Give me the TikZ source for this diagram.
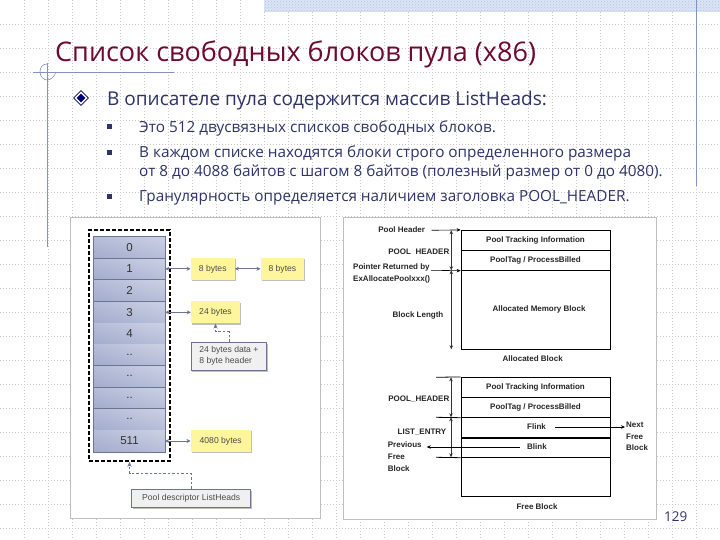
\documentclass[tikz,border=0pt]{standalone}
\usepackage{fontspec}
\setmainfont{Liberation Sans}
\newfontfamily\slidefont{Open Sans}
\usetikzlibrary{arrows.meta,shadows,shapes.geometric,patterns,shadings}
\definecolor{titlec}{HTML}{6E0A30}
\definecolor{bodyc}{HTML}{2E3468}
\definecolor{guide}{HTML}{8492C2}
\definecolor{yel}{HTML}{FFF59C}
\definecolor{rowa}{HTML}{A4ACCE}
\definecolor{rowm}{HTML}{B6BDD8}
\definecolor{rowb}{HTML}{CBD1E4}
\definecolor{conn}{HTML}{6C7590}
\definecolor{band}{HTML}{AFC3E6}
\tikzset{
 rowcell/.style={minimum width=71pt,inner sep=0,lower left=rowa,upper right=rowb,upper left=rowm,lower right=rowm,font=\fontsize{11.5}{12}\selectfont,text=black!80},
 ybox/.style={fill=yel,inner sep=0,font=\fontsize{8.6}{10}\selectfont,text=black!70,drop shadow={shadow xshift=1pt,shadow yshift=-1.2pt,fill=gray,opacity=.5}},
 gbox/.style={fill=black!6,draw=conn,line width=.6pt,inner sep=0,font=\fontsize{8.6}{10.5}\selectfont,text=black!70,drop shadow={shadow xshift=1pt,shadow yshift=-1.5pt,fill=gray,opacity=.5}},
 darr/.style={{Stealth[length=4pt,width=4pt]}-{Stealth[length=4pt,width=4pt]},conn,line width=.8pt},
 dasharr/.style={-{Stealth[length=5pt,width=4pt]},conn,line width=.8pt,dash pattern=on 2.5pt off 2pt},
 blk/.style={draw=black,line width=.8pt,inner sep=0,minimum width=149pt,font=\fontsize{8}{9}\selectfont\bfseries,text=black!85},
 lbl/.style={inner sep=0,font=\fontsize{8}{11.8}\selectfont\bfseries,text=black!85,align=left},
 farr/.style={-{Stealth[length=4pt,width=3.5pt]},line width=.6pt},
 vdbl/.style={{Stealth[length=4pt,width=3.5pt]}-{Stealth[length=4pt,width=3.5pt]},line width=.6pt,black!80},
 sub/.style={inner sep=0,anchor=base west,font=\slidefont\fontsize{15.3}{20}\selectfont,text=bodyc},
 subm/.style={fill=bodyc,minimum size=5pt,inner sep=0},
 gridl/.style={black!22,line width=.7pt,dash pattern=on .8pt off 2.2pt},
}
\begin{document}
\begin{tikzpicture}[x=1pt,y=-1pt]
\useasboundingbox (0,0) rectangle (720,540);
\fill[white] (0,0) rectangle (720,540);
\foreach \k in {1,...,22} \draw[gridl] (0,24*\k) -- (720,24*\k);
\foreach \k in {1,...,29} \draw[gridl] (24*\k,0) -- (24*\k,540);
\fill[band!45!white] (264,0) rectangle (720,12);
\fill[pattern=crosshatch dots,pattern color=band] (264,0) rectangle (720,12);
\draw[guide,line width=.9pt] (696.5,0) -- (696.5,186);
\draw[guide,line width=.9pt] (47,63) -- (47,247);
\draw[guide,line width=.9pt] (33,72) -- (174,72);
\draw[guide,line width=.6pt] (47,64) .. controls (42,64) and (40,68) .. (40,72) .. controls (40,77) and (44,80) .. (47,80) .. controls (51,80) and (54,77) .. (56,72);
% texts
\node[inner sep=0,anchor=base west,font=\slidefont\fontsize{27}{30}\selectfont,text=titlec] (title) at (55,62) {Список свободных блоков пула (x86)};
\node[diamond,fill=white,draw=black!80!blue,line width=.7pt,minimum size=15pt,inner sep=0] (bul) at (81,98) {};
\node[diamond,fill=blue!50!black,minimum size=9pt,inner sep=0] (bulc) at (81,98) {};
\node[sub,font=\slidefont\fontsize{19}{22}\selectfont] (head) at (107,106) {В описателе пула содержится массив ListHeads:};
\node[subm] (m1) at (109,127) {};
\node[subm] (m2) at (109,153) {};
\node[subm] (m3) at (109,197) {};
\node[sub] (s1) at (139,132.7) {Это 512 двусвязных списков свободных блоков.};
\node[sub] (s2) at (139,158) {В каждом списке находятся блоки строго определенного размера};
\node[sub] (s2b) at (139,177) {от 8 до 4088 байтов с шагом 8 байтов (полезный размер от 0 до 4080).};
\node[sub] (s3) at (139,202) {Гранулярность определяется наличием заголовка POOL\_HEADER.};
\node[sub,font=\slidefont\fontsize{13.5}{16}\selectfont] (pg) at (664,521) {129};
% panels
\node[draw=black!25,fill=white,line width=.8pt,inner sep=0,minimum width=249.5pt,minimum height=301pt] (lp) at (195.25,367.5) {};
\node[draw=black!25,fill=white,line width=.8pt,inner sep=0,minimum width=313pt,minimum height=302pt] (rp) at (500,368) {};
% column
\node[rowcell,minimum height=21.3pt] (r0) at (129.5,247.6) {0};
\node[rowcell,minimum height=21pt] (r1) at (129.5,268.8) {1};
\node[rowcell,minimum height=22pt] (r2) at (129.5,290.3) {2};
\node[rowcell,minimum height=22pt] (r3) at (129.5,312.3) {3};
\node[rowcell,minimum height=20.7pt] (r4) at (129.5,333.6) {4};
\node[rowcell,minimum height=21.3pt] (r5) at (129.5,354.7) {..};
\node[rowcell,minimum height=22pt] (r6) at (129.5,376.3) {..};
\node[rowcell,minimum height=21pt] (r7) at (129.5,397.8) {..};
\node[rowcell,minimum height=21.7pt] (r8) at (129.5,419.1) {..};
\node[rowcell,minimum height=22pt] (r9) at (129.5,441) {511};
\foreach \a/\b in {r0/r1,r1/r2,r2/r3,r5/r6,r6/r7,r7/r8}
  \draw[conn,line width=.6pt] (\a.south west) -- (\a.south east);
\draw[conn,line width=.8pt] (r0.north west) rectangle (r9.south east);
\node[draw=black,line width=1.5pt,dash pattern=on 4pt off 2pt,inner sep=0,minimum width=81pt,minimum height=231pt] (dbox) at (129.5,345.5) {};
\node[ybox,minimum width=44pt,minimum height=22pt] (b8a) at (212.7,268.8) {8 bytes};
\node[ybox,minimum width=43.5pt,minimum height=22pt] (b8b) at (282.4,268.8) {8 bytes};
\node[ybox,minimum width=49pt,minimum height=22pt] (b24) at (215.5,312.3) {24 bytes};
\node[gbox,minimum width=75.7pt,minimum height=28pt,align=left] (note) at (228.9,356) {24 bytes data +\\8 byte header};
\node[ybox,minimum width=60pt,minimum height=22pt] (b4080) at (220.7,441) {4080 bytes};
\node[gbox,minimum width=119pt,minimum height=18pt] (pool) at (191.2,498) {Pool descriptor ListHeads};
\draw[darr] (r1.east) -- (b8a.west);
\draw[darr] (b8a.east) -- (b8b.west);
\draw[darr] (r3.east) -- (b24.west);
\draw[darr] (r9.east) -- (b4080.west);
\draw[dasharr] (note.north) -- ++(0,-10) -| (b24.south);
\draw[dasharr] (pool.north) -- ++(0,-15) -| (dbox.south);
% block 1
\node[blk,minimum height=20pt] (t1) at (535.5,240.3) {Pool Tracking Information};
\node[blk,minimum height=20pt] (g1) at (535.5,260.3) {PoolTag / ProcessBilled};
\node[blk,minimum height=79pt] (m1b) at (535.5,309.8) {};
\node[inner sep=0,font=\fontsize{8}{9}\selectfont\bfseries,text=black!85] (mt) at (539,309) {Allocated Memory Block};
\draw[line width=1.4pt] (t1.north east) -- (m1b.south east);
\node[lbl] (ab) at (532.7,358.7) {Allocated Block};
\node[lbl] (ph) at (401.7,230) {Pool Header};
\node[lbl,anchor=east] (pH) at (449.5,251.7) {POOL~~HEADER};
\node[lbl,anchor=north west] (pr) at (353,263.5) {Pointer Returned by\\ExAllocatePoolxxx()};
\node[lbl] (bl) at (418,315) {Block Length};
\coordinate (pa) at (431.7,230.3);
\coordinate (pb) at (431,270.3);
\coordinate (v1) at (451.3,230.3);
\coordinate (v2) at (451.3,270.3);
\coordinate (v3) at (451.3,349.3);
\draw[farr] (pa) -- (t1.north west);
\draw[farr] (pb) -- (g1.south west);
\draw[vdbl] (v1) -- (v2);
\draw[vdbl] (v2) -- (v3);
% block 2
\node[blk,minimum height=20pt] (t2) at (535.5,387.3) {Pool Tracking Information};
\node[blk,minimum height=20pt] (g2) at (535.5,407.3) {PoolTag / ProcessBilled};
\node[blk,minimum height=20pt] (f2) at (535.5,427.3) {};
\node[blk,minimum height=20pt] (k2) at (535.5,447.3) {};
\node[blk,minimum height=39pt] (e2) at (535.5,476.8) {};
\draw[line width=1.6pt] (f2.south west) -- (f2.south east);
\draw[line width=1.4pt] (t2.north east) -- (e2.south east);
\coordinate (a1) at (436,377.3);
\coordinate (a2) at (436,417.3);
\coordinate (a3) at (436,457.3);
\draw[line width=.8pt] (a1) -- (t2.north west);
\draw[line width=.8pt] (a2) -- (g2.south west);
\draw[line width=.8pt] (a3) -- (k2.south west);
\coordinate (w1) at (451,377.3);
\coordinate (w2) at (451,417.3);
\coordinate (w3) at (451,457.3);
\draw[vdbl] (w1) -- (w2);
\draw[vdbl] (w2) -- (w3);
\node[lbl,anchor=west] (fl) at (527,427) {Flink};
\node[lbl,anchor=west] (bk) at (527,447) {Blink};
\node[lbl,anchor=north west] (nx) at (626,421.5) {Next\\Free\\Block};
\node[lbl,anchor=north west] (pv) at (387.7,441.5) {Previous\\Free\\Block};
\node[lbl,anchor=east] (pH2) at (449.5,398.7) {POOL\_HEADER};
\node[lbl] (le) at (422,431.7) {LIST\_ENTRY};
\node[lbl] (fb) at (537,506.7) {Free Block};
\coordinate (ff) at (555,427);
\coordinate (bf) at (520,447);
\coordinate (nt) at (625,427);
\coordinate (pt) at (426.7,447);
\draw[farr] (ff) -- (nt);
\draw[farr] (bf) -- (pt);
\end{tikzpicture}
\end{document}
